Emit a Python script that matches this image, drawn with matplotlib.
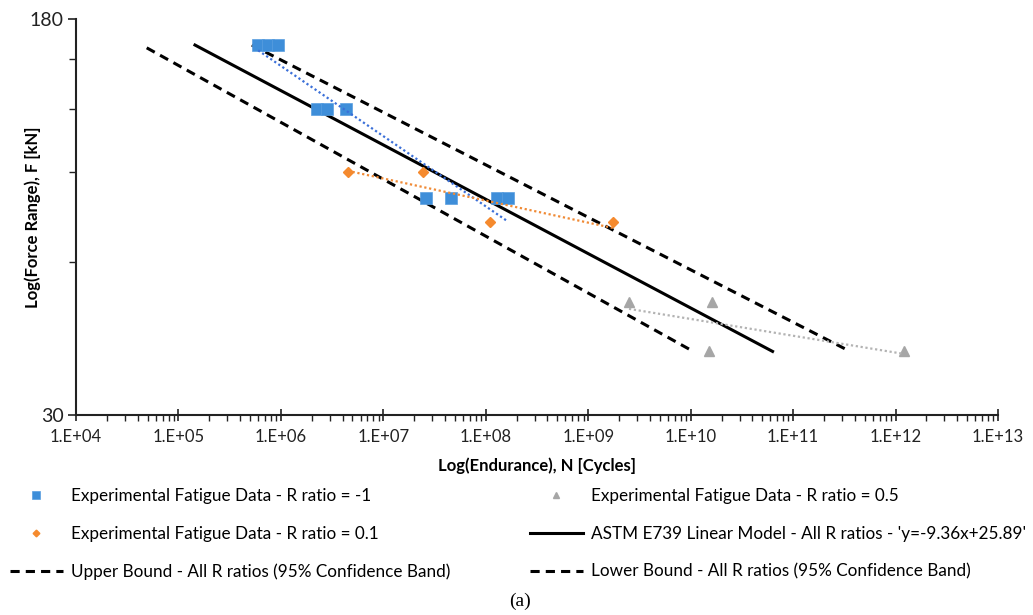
import numpy as np
import matplotlib
matplotlib.use('Agg')
import matplotlib.pyplot as plt
from matplotlib.ticker import FixedLocator, NullFormatter, LogLocator, FuncFormatter

plt.rcParams['font.family'] = ['Lato', 'DejaVu Sans']

n_rneg1 = [6.0e5, 7.5e5, 9.4e5, 2.25e6, 2.8e6, 4.3e6, 2.6e7, 4.6e7, 1.3e8, 1.65e8]
f_rneg1 = [160, 160, 160, 120, 120, 120, 80, 80, 80, 80]
n_r01 = [4.5e6, 2.45e7, 1.1e8, 1.75e9]
f_r01 = [90, 90, 72, 72]
n_r05 = [2.5e9, 1.6e10, 1.5e10, 1.2e12]
f_r05 = [50, 50, 40, 40]

# model and confidence band end points
model_n = [1.45e5, 6.3e10]
model_f = [160, 40]
upper_n = [5.2e5, 3.6e11]
upper_f = [160, 40]
lower_n = [4.9e4, 1.06e10]
lower_f = [158, 40]

x_ticks = [1e4, 1e5, 1e6, 1e7, 1e8, 1e9, 1e10, 1e11, 1e12, 1e13]
y_major = [30, 180]
y_minor = [60, 90, 120, 150]


def power_trend(n, f):
    # excel style power trendline, fitted in log-log space
    b, a = np.polyfit(np.log10(n), np.log10(f), 1)
    xs = np.array([min(n), max(n)])
    return xs, 10 ** (a + b * np.log10(xs))


fig = plt.figure(figsize=(10.33, 6.15), dpi=100)
ax = fig.add_axes([76 / 1033, 1 - 415 / 615, 922 / 1033, 396 / 615])

dash = (0, (3, 2))
l_up, = ax.plot(upper_n, upper_f, color='black', lw=2.2, ls=dash, zorder=2)
l_lo, = ax.plot(lower_n, lower_f, color='black', lw=2.2, ls=dash, zorder=2)
l_mod, = ax.plot(model_n, model_f, color='black', lw=2.2, zorder=2)

tx, ty = power_trend(n_rneg1, f_rneg1)
ax.plot(tx, ty, color='#3a6fd8', lw=1.6, ls=(0, (1, 1.2)), zorder=4)
tx, ty = power_trend(n_r01, f_r01)
ax.plot(tx, ty, color='#f08a35', lw=1.6, ls=(0, (1, 1.2)), zorder=4)
tx, ty = power_trend(n_r05, f_r05)
ax.plot(tx, ty, color='#b3b3b3', lw=1.6, ls=(0, (1, 1.2)), zorder=4)

m_neg1, = ax.plot(n_rneg1, f_rneg1, 's', color='#3e8ed9', mec='#5a9fe0', mew=0.5,
                  ms=8.5, ls='none', zorder=3)
m_01, = ax.plot(n_r01, f_r01, 'D', color='#f58a2e', mec='#f58a2e', ms=5.5, ls='none', zorder=3)
m_05, = ax.plot(n_r05, f_r05, '^', color='#a6a6a6', mec='#a6a6a6', ms=7.5, ls='none', zorder=3)

ax.set_xscale('log')
ax.set_yscale('log')
ax.set_xlim(1e4, 1e13)
ax.set_ylim(30, 180)

ax.xaxis.set_major_locator(FixedLocator(x_ticks))
ax.xaxis.set_major_formatter(FuncFormatter(lambda v, p: '1.E+%02d' % round(np.log10(v))))
ax.xaxis.set_minor_locator(LogLocator(base=10, subs=np.arange(2, 10), numticks=20))
ax.xaxis.set_minor_formatter(NullFormatter())
ax.yaxis.set_major_locator(FixedLocator(y_major))
ax.yaxis.set_major_formatter(FuncFormatter(lambda v, p: '%d' % v))
ax.yaxis.set_minor_locator(FixedLocator(y_minor))
ax.yaxis.set_minor_formatter(NullFormatter())

for s in ['top', 'right']:
    ax.spines[s].set_visible(False)
for s in ['left', 'bottom']:
    ax.spines[s].set_linewidth(1.5)
    ax.spines[s].set_color('#222222')

ax.tick_params(axis='x', which='major', direction='inout', length=8, width=1.2,
               labelsize=12, pad=6, colors='#222222')
ax.tick_params(axis='x', which='minor', direction='out', length=4, width=1.0, colors='#222222')
ax.tick_params(axis='y', which='major', direction='out', length=6, width=1.2,
               labelsize=14, pad=3, colors='#222222')
ax.tick_params(axis='y', which='minor', direction='out', length=5, width=1.0, colors='#222222')

ax.set_xlabel('Log(Endurance), N [Cycles]', fontsize=12, fontweight='bold', labelpad=9)
ax.set_ylabel('Log(Force Range), F [kN]', fontsize=12, fontweight='bold', labelpad=-8)

leg_kw = dict(loc='upper left', frameon=False, fontsize=12.3, handlelength=3.1,
              handletextpad=0.47, borderpad=0, borderaxespad=0, labelspacing=1.27,
              markerscale=0.62)
fig.legend([m_neg1, m_01, l_up],
           ['Experimental Fatigue Data - R ratio = -1',
            'Experimental Fatigue Data - R ratio = 0.1',
            'Upper Bound - All R ratios (95% Confidence Band)'],
           bbox_to_anchor=(10 / 1033, 1 - 488 / 615), **leg_kw)
fig.legend([m_05, l_mod, l_lo],
           ['Experimental Fatigue Data - R ratio = 0.5',
            "ASTM E739 Linear Model - All R ratios - 'y=-9.36x+25.89'",
            'Lower Bound - All R ratios (95% Confidence Band)'],
           bbox_to_anchor=(530 / 1033, 1 - 488 / 615), **leg_kw)

fig.text(520 / 1033, 1 - 601 / 615, '(a)', ha='center', va='center',
         fontsize=14, family=['Liberation Serif', 'DejaVu Serif'])

fig.savefig('out.png', dpi=100)
